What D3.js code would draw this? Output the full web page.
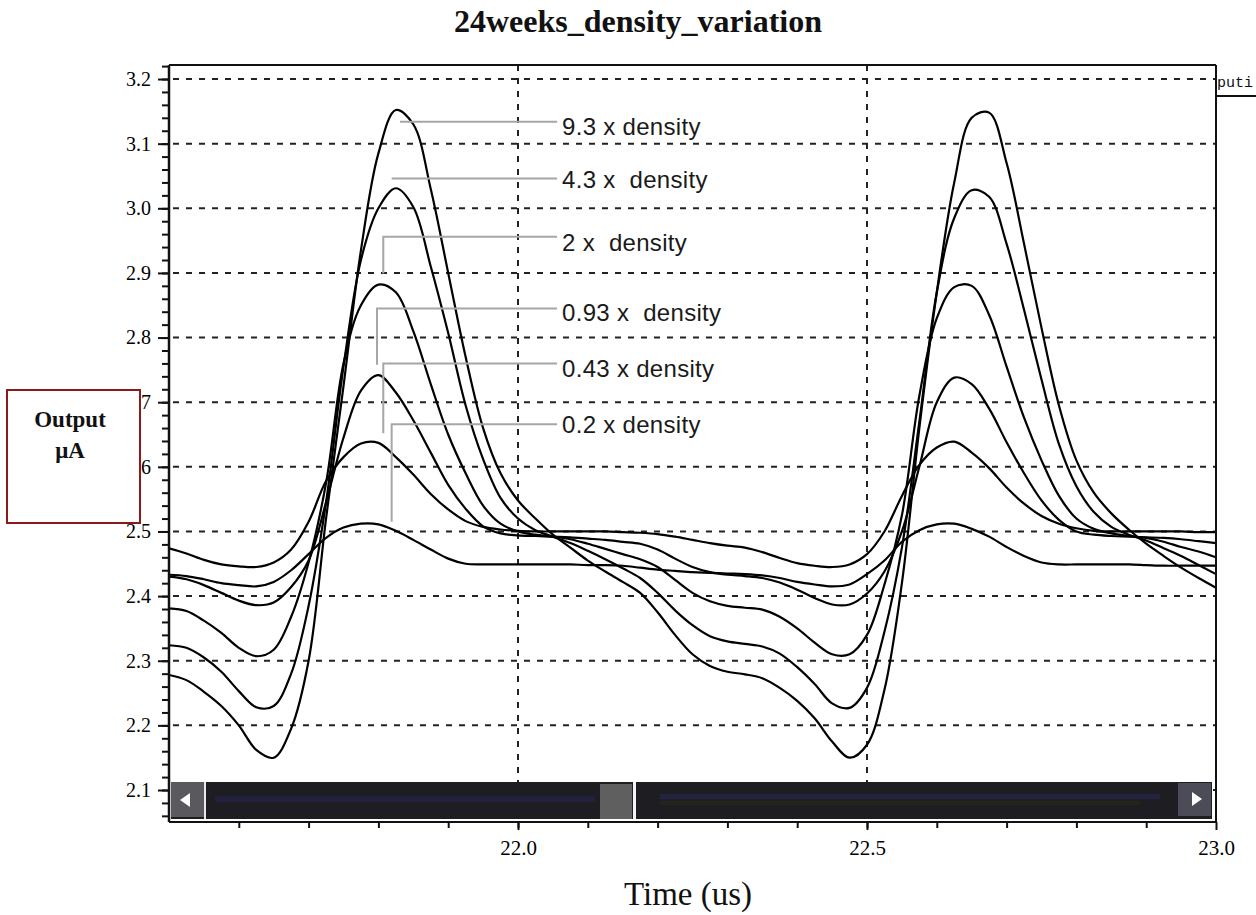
<!DOCTYPE html>
<html>
<head>
<meta charset="utf-8">
<script src="https://cdn.jsdelivr.net/npm/d3@7"></script>
<style>
  body { margin: 0; background: #fff; }
  svg { display: block; }
</style>
</head>
<body>
<script>
/* ---------------- datos ---------------- */
const time = [21.500, 21.525, 21.550, 21.575, 21.600, 21.625, 21.650, 21.675, 21.700, 21.725,
  21.750, 21.775, 21.800, 21.825, 21.850, 21.875, 21.900, 21.925, 21.950, 21.975,
  22.000, 22.025, 22.050, 22.075, 22.100, 22.125, 22.150, 22.175, 22.200, 22.225,
  22.250, 22.275, 22.300, 22.325, 22.350, 22.375, 22.400, 22.425, 22.450, 22.475,
  22.500, 22.525, 22.550, 22.575, 22.600, 22.625, 22.650, 22.675, 22.700, 22.725,
  22.750, 22.775, 22.800, 22.825, 22.850, 22.875, 22.900, 22.925, 22.950, 22.975, 23.000];

const d93 = [2.278,2.270,2.252,2.230,2.200,2.162,2.150,2.195,2.300,2.520,
  2.725,2.935,3.085,3.152,3.130,3.030,2.900,2.770,2.660,2.590,
  2.548,2.520,2.495,2.475,2.455,2.438,2.422,2.405,2.375,2.340,
  2.310,2.292,2.283,2.279,2.273,2.258,2.238,2.211,2.175,2.150,
  2.170,2.255,2.420,2.660,2.870,3.040,3.140,3.148,3.070,2.945,
  2.815,2.695,2.610,2.560,2.528,2.503,2.481,2.462,2.444,2.428,2.413];

const d43 = [2.324,2.320,2.305,2.283,2.253,2.228,2.230,2.280,2.385,2.545,
  2.755,2.920,3.000,3.031,3.002,2.910,2.807,2.695,2.612,2.552,
  2.520,2.502,2.492,2.482,2.470,2.457,2.443,2.428,2.405,2.378,
  2.355,2.338,2.330,2.326,2.322,2.311,2.290,2.264,2.234,2.227,
  2.258,2.345,2.475,2.670,2.870,2.985,3.028,3.018,2.945,2.843,
  2.735,2.635,2.570,2.530,2.507,2.495,2.486,2.474,2.462,2.448,2.434];

const d2 = [2.381,2.377,2.362,2.343,2.320,2.307,2.317,2.368,2.452,2.575,
  2.760,2.850,2.882,2.870,2.810,2.728,2.650,2.590,2.540,2.512,
  2.500,2.495,2.492,2.488,2.481,2.473,2.465,2.457,2.445,2.425,
  2.405,2.392,2.385,2.382,2.379,2.368,2.350,2.328,2.310,2.310,
  2.340,2.418,2.525,2.710,2.830,2.878,2.880,2.835,2.755,2.676,
  2.610,2.555,2.520,2.504,2.497,2.493,2.490,2.484,2.476,2.469,2.460];

const d093 = [2.430,2.426,2.417,2.405,2.393,2.386,2.390,2.414,2.455,2.545,
  2.645,2.718,2.742,2.715,2.672,2.622,2.572,2.535,2.508,2.497,
  2.494,2.493,2.492,2.491,2.489,2.487,2.484,2.481,2.472,2.458,
  2.445,2.437,2.433,2.431,2.428,2.421,2.410,2.397,2.387,2.387,
  2.404,2.438,2.500,2.600,2.700,2.738,2.728,2.690,2.638,2.590,
  2.548,2.518,2.500,2.495,2.493,2.492,2.491,2.490,2.488,2.485,2.482];

const d043 = [2.474,2.466,2.456,2.449,2.446,2.445,2.452,2.472,2.515,2.578,
  2.615,2.636,2.637,2.615,2.588,2.558,2.534,2.516,2.507,2.503,
  2.501,2.500,2.500,2.500,2.500,2.500,2.499,2.498,2.496,2.492,
  2.487,2.482,2.478,2.475,2.468,2.459,2.451,2.447,2.445,2.449,
  2.465,2.500,2.555,2.603,2.630,2.639,2.622,2.598,2.568,2.543,
  2.524,2.512,2.505,2.501,2.500,2.500,2.500,2.500,2.500,2.499,2.499];

const d02 = [2.433,2.431,2.426,2.420,2.417,2.415,2.422,2.440,2.465,2.490,
  2.506,2.512,2.511,2.501,2.487,2.472,2.458,2.450,2.449,2.449,
  2.449,2.449,2.449,2.449,2.448,2.448,2.447,2.444,2.441,2.439,
  2.437,2.436,2.435,2.434,2.432,2.428,2.422,2.418,2.415,2.418,
  2.434,2.455,2.484,2.502,2.511,2.512,2.504,2.492,2.476,2.462,
  2.452,2.449,2.449,2.449,2.449,2.449,2.448,2.447,2.447,2.447,2.447];

const seriesLabels = ["9.3 x density", "4.3 x  density", "2 x  density",
                      "0.93 x  density", "0.43 x density", "0.2 x density"];
const seriesData = [d93, d43, d2, d093, d043, d02];

const yTicks = [2.1, 2.2, 2.3, 2.4, 2.5, 2.6, 2.7, 2.8, 2.9, 3.0, 3.1, 3.2];
const xTicks = [22.0, 22.5, 23.0];

// anclas de las etiquetas (tiempo, valor): inicio de la guia y fin vertical
const leaders = [
  { t: 21.831, v: 3.134, v2: 3.134, base: 3.113 },
  { t: 21.819, v: 3.046, v2: 3.046, base: 3.031 },
  { t: 21.807, v: 2.956, v2: 2.899, base: 2.934 },
  { t: 21.798, v: 2.845, v2: 2.758, base: 2.825 },
  { t: 21.807, v: 2.760, v2: 2.652, base: 2.739 },
  { t: 21.819, v: 2.666, v2: 2.515, base: 2.652 }
];

/* ---------------- lienzo ---------------- */
const anchoTotal = 1256, altoTotal = 915;
const margins = { left: 169, top: 65, right: 40, bottom: 93 };
const ancho = anchoTotal - margins.left - margins.right;
const alto = altoTotal - margins.top - margins.bottom;

const svg = d3.select("body").append("svg")
  .attr("width", anchoTotal)
  .attr("height", altoTotal);

const x = d3.scaleLinear().domain([21.5, 23.0]).range([margins.left, margins.left + ancho]);
const y = d3.scaleLinear().domain([2.0505, 3.2217]).range([margins.top + alto, margins.top]);

svg.append("defs").append("clipPath").attr("id", "clip")
  .append("rect")
  .attr("x", margins.left).attr("y", margins.top)
  .attr("width", ancho).attr("height", alto);

// rejilla punteada
const grid = svg.append("g").attr("stroke", "#222").attr("stroke-width", 2).attr("stroke-dasharray", "6,7");
grid.selectAll("line.h").data(yTicks).join("line")
  .attr("class", "h")
  .attr("x1", margins.left + 4).attr("x2", margins.left + ancho)
  .attr("y1", d => y(d)).attr("y2", d => y(d));
grid.selectAll("line.v").data(xTicks.slice(0, 2)).join("line")
  .attr("class", "v")
  .attr("x1", d => x(d)).attr("x2", d => x(d))
  .attr("y1", margins.top).attr("y2", margins.top + alto);

// curvas
const line = d3.line()
  .x((d, i) => x(time[i]))
  .y(d => y(d))
  .curve(d3.curveCatmullRom.alpha(0.5));

svg.append("g").attr("clip-path", "url(#clip)")
  .selectAll("path").data(seriesData).join("path")
  .attr("d", line)
  .attr("fill", "none")
  .attr("stroke", "#000")
  .attr("stroke-width", 2.2);

// guias y etiquetas
const xText = x(22.056);
const gLab = svg.append("g");
gLab.selectAll("path").data(leaders).join("path")
  .attr("d", d => `M${x(d.t)},${y(d.v2)}V${y(d.v)}H${xText}`)
  .attr("fill", "none")
  .attr("stroke", "#a6a6a6")
  .attr("stroke-width", 2);
gLab.selectAll("text").data(leaders).join("text")
  .attr("x", xText + 5)
  .attr("y", d => y(d.base))
  .attr("font-family", "Liberation Sans, Arial, sans-serif")
  .attr("font-size", 24)
  .attr("letter-spacing", 0.3)
  .attr("fill", "#1a1a1a")
  .style("white-space", "pre")
  .text((d, i) => seriesLabels[i]);

// barra de desplazamiento
const sb = svg.append("g");
const sbTop = 782, sbH = 37;
sb.append("rect").attr("x", 171).attr("y", sbTop).attr("width", 1041).attr("height", sbH).attr("fill", "#1d1d22");
sb.append("rect").attr("x", 215).attr("y", sbTop + 14).attr("width", 380).attr("height", 6).attr("fill", "#23234a").attr("opacity", 0.7);
sb.append("rect").attr("x", 660).attr("y", sbTop + 12).attr("width", 500).attr("height", 5).attr("fill", "#25254f").attr("opacity", 0.7);
sb.append("rect").attr("x", 660).attr("y", sbTop + 19).attr("width", 480).attr("height", 4).attr("fill", "#262a18").attr("opacity", 0.7);
sb.append("rect").attr("x", 171).attr("y", sbTop).attr("width", 33).attr("height", sbH - 2).attr("fill", "#5a5a5e");
sb.append("rect").attr("x", 204).attr("y", sbTop).attr("width", 2).attr("height", sbH).attr("fill", "#e8e8e8");
sb.append("path").attr("d", `M180,${sbTop + 18}L190,${sbTop + 11}V${sbTop + 25}Z`).attr("fill", "#fff");
sb.append("rect").attr("x", 600).attr("y", sbTop + 2).attr("width", 32).attr("height", sbH - 2).attr("fill", "#5f5f60");
sb.append("rect").attr("x", 633).attr("y", sbTop).attr("width", 3).attr("height", sbH).attr("fill", "#f4f4f4");
sb.append("rect").attr("x", 1178).attr("y", sbTop + 1).attr("width", 33).attr("height", sbH - 4).attr("fill", "#4c4c58");
sb.append("path").attr("d", `M1202,${sbTop + 17}L1192,${sbTop + 10}V${sbTop + 24}Z`).attr("fill", "#fff");
sb.append("rect").attr("x", 171).attr("y", sbTop + sbH).attr("width", 1041).attr("height", 2).attr("fill", "#fff");

// ejes
const axisFont = "Liberation Serif, Times New Roman, serif";
const yAxis = svg.append("g")
  .attr("transform", `translate(${margins.left},0)`)
  .call(d3.axisLeft(y).tickValues(yTicks).tickSize(11).tickPadding(7).tickFormat(d3.format(".1f")));
const yMinor = svg.append("g")
  .attr("transform", `translate(${margins.left},0)`)
  .call(d3.axisLeft(y).tickValues(d3.range(2.06, 3.22, 0.02)).tickSize(7).tickFormat(""));
const xAxis = svg.append("g")
  .attr("transform", `translate(0,${margins.top + alto})`)
  .call(d3.axisBottom(x).tickValues(xTicks).tickSize(8).tickPadding(10).tickFormat(d3.format(".1f")));
const xMinor = svg.append("g")
  .attr("transform", `translate(0,${margins.top + alto})`)
  .call(d3.axisBottom(x).tickValues(d3.range(21.6, 22.95, 0.1)).tickSize(6).tickFormat(""));

[yAxis, yMinor, xAxis, xMinor].forEach(g => {
  g.select(".domain").remove();
  g.selectAll("line").attr("stroke", "#111").attr("stroke-width", 2);
  g.selectAll("text").attr("font-family", axisFont).attr("font-size", 20).attr("fill", "#000");
});
xAxis.selectAll("text").attr("font-size", 21);

// marco
const frame = svg.append("g").attr("stroke", "#111").attr("fill", "none");
frame.append("line").attr("x1", margins.left).attr("x2", margins.left + ancho)
  .attr("y1", margins.top).attr("y2", margins.top).attr("stroke-width", 2);
frame.append("line").attr("x1", margins.left).attr("x2", margins.left)
  .attr("y1", margins.top).attr("y2", margins.top + alto).attr("stroke-width", 2.5);
frame.append("line").attr("x1", margins.left + ancho).attr("x2", margins.left + ancho)
  .attr("y1", margins.top).attr("y2", margins.top + alto).attr("stroke-width", 2);
frame.append("line").attr("x1", margins.left).attr("x2", margins.left + ancho)
  .attr("y1", margins.top + alto).attr("y2", margins.top + alto).attr("stroke-width", 2);

// leyenda recortada a la derecha
svg.append("text").attr("x", margins.left + ancho + 1).attr("y", 87)
  .attr("font-family", "Liberation Mono, Courier New, monospace").attr("font-size", 15)
  .attr("fill", "#111").text("puti");
svg.append("line").attr("x1", margins.left + ancho).attr("x2", anchoTotal)
  .attr("y1", 96).attr("y2", 96).attr("stroke", "#111").attr("stroke-width", 2);

// titulo y eje x
svg.append("text").attr("x", 638).attr("y", 32)
  .attr("text-anchor", "middle")
  .attr("font-family", axisFont).attr("font-weight", "bold").attr("font-size", 32)
  .attr("fill", "#111").text("24weeks_density_variation");
svg.append("text").attr("x", 688).attr("y", 905)
  .attr("text-anchor", "middle")
  .attr("font-family", axisFont).attr("font-size", 33)
  .attr("fill", "#111").text("Time (us)");

// caja de unidades
const caja = svg.append("g");
caja.append("rect").attr("x", 7).attr("y", 390).attr("width", 133).attr("height", 133)
  .attr("fill", "#fff").attr("stroke", "#8b1a1a").attr("stroke-width", 2);
caja.append("text").attr("x", 70).attr("y", 427).attr("text-anchor", "middle")
  .attr("font-family", axisFont).attr("font-weight", "bold").attr("font-size", 23)
  .attr("fill", "#111").text("Output");
caja.append("text").attr("x", 70).attr("y", 458).attr("text-anchor", "middle")
  .attr("font-family", axisFont).attr("font-weight", "bold").attr("font-size", 23)
  .attr("fill", "#111").text("μA");
</script>
</body>
</html>
